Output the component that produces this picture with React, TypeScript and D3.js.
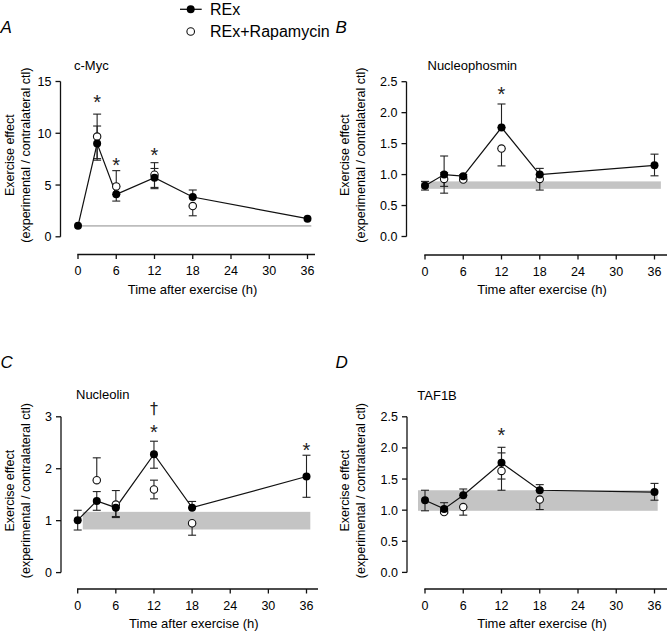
import React from 'react';
import * as d3 from 'd3';

// ---------- data ----------
const timesREx = [0, 3, 6, 12, 18, 36];
const timesRap = [3, 6, 12, 18];
const xTickValues = [0, 6, 12, 18, 24, 30, 36];
const seriesNames = ['REx', 'REx+Rapamycin'];
const xTitle = 'Time after exercise (h)';
const yTitle1 = 'Exercise effect';
const yTitle2 = '(experimental / contralateral ctl)';

// A: c-Myc
const mycREx = [1.06, 9.0, 4.1, 5.7, 3.84, 1.75];
const mycRExLo = [1.06, 7.4, 3.45, 4.65, 3.84, 1.75];
const mycRExHi = [1.06, 10.7, 4.1, 6.6, 4.52, 1.75];
const mycRap = [9.68, 4.87, 6.0, 2.97];
const mycRapLo = [7.55, 4.87, 4.77, 2.03];
const mycRapHi = [11.85, 6.39, 7.16, 2.97];
const mycBand = [1.06, 1.06];
const mycYTicks = [0, 5, 10, 15];
const mycMarkT = [3, 6, 12];
const mycMarkV = [13.5, 7.4, 8.43];
const mycMarkS = ['*', '*', '*'];

// B: Nucleophosmin
const npmREx = [0.82, 1.0, 0.975, 1.76, 1.0, 1.15];
const npmRExLo = [0.75, 0.7, 0.95, 1.76, 1.0, 0.98];
const npmRExHi = [0.89, 1.3, 1.0, 2.14, 1.1, 1.33];
const npmRap = [0.93, 0.92, 1.42, 0.93];
const npmRapLo = [0.81, 0.9, 1.14, 0.75];
const npmRapHi = [1.03, 0.92, 1.42, 0.93];
const npmBand = [0.77, 0.89];
const npmYTicks = [0, 0.5, 1.0, 1.5, 2.0, 2.5];
const npmMarkT = [12];
const npmMarkV = [2.39];
const npmMarkS = ['*'];

// C: Nucleolin
const nclREx = [1.01, 1.38, 1.25, 2.28, 1.25, 1.85];
const nclRExLo = [0.82, 1.2, 1.08, 2.01, 1.25, 1.45];
const nclRExHi = [1.2, 1.56, 1.25, 2.53, 1.37, 2.26];
const nclRap = [1.78, 1.31, 1.6, 0.95];
const nclRapLo = [1.78, 1.06, 1.42, 0.72];
const nclRapHi = [2.21, 1.58, 1.78, 0.95];
const nclBand = [0.83, 1.17];
const nclYTicks = [0, 1, 2, 3];
const nclMarkT = [12, 12, 36];
const nclMarkV = [3.15, 2.81, 2.45];
const nclMarkS = ['\u2020', '*', '*'];

// D: TAF1B
const tafREx = [1.16, 1.02, 1.24, 1.76, 1.32, 1.29];
const tafRExLo = [0.99, 1.02, 1.24, 1.5, 1.32, 1.16];
const tafRExHi = [1.32, 1.12, 1.34, 2.01, 1.41, 1.43];
const tafRap = [0.97, 1.05, 1.63, 1.17];
const tafRapLo = [0.95, 0.92, 1.32, 1.01];
const tafRapHi = [0.97, 1.05, 1.92, 1.17];
const tafBand = [0.99, 1.32];
const tafYTicks = [0, 0.5, 1.0, 1.5, 2.0, 2.5];
const tafMarkT = [12];
const tafMarkV = [2.29];
const tafMarkS = ['*'];

// ---------- layout ----------
const FONT = '"Liberation Sans", Arial, Helvetica, sans-serif';

type PanelCfg = {
  letter: string; title: string;
  left: number; axisX: number; x0: number; x36: number; xEnd: number;
  yTop: number; yBottom: number; xAxisY: number; yMax: number; fmt: string;
  bandT: [number, number]; titleX: number; titleY: number;
  rex: number[]; rexLo: number[]; rexHi: number[];
  rap: number[]; rapLo: number[]; rapHi: number[];
  band: number[]; yTicks: number[];
  markT: number[]; markV: number[]; markS: string[];
};

const panels: PanelCfg[] = [
  {
    letter: 'A', title: 'c-Myc', left: 0, axisX: 60.5, x0: 78, x36: 307.5, xEnd: 315,
    yTop: 81.5, yBottom: 236.8, xAxisY: 254.5, yMax: 15, fmt: 'd', bandT: [0, 36.6],
    titleX: 74, titleY: 70,
    rex: mycREx, rexLo: mycRExLo, rexHi: mycRExHi, rap: mycRap, rapLo: mycRapLo, rapHi: mycRapHi,
    band: mycBand, yTicks: mycYTicks, markT: mycMarkT, markV: mycMarkV, markS: mycMarkS,
  },
  {
    letter: 'B', title: 'Nucleophosmin', left: 335, axisX: 406.5, x0: 425, x36: 654.5, xEnd: 667,
    yTop: 81.7, yBottom: 236.5, xAxisY: 255, yMax: 2.5, fmt: '.1f', bandT: [-0.6, 37.0],
    titleX: 427.5, titleY: 69.5,
    rex: npmREx, rexLo: npmRExLo, rexHi: npmRExHi, rap: npmRap, rapLo: npmRapLo, rapHi: npmRapHi,
    band: npmBand, yTicks: npmYTicks, markT: npmMarkT, markV: npmMarkV, markS: npmMarkS,
  },
  {
    letter: 'C', title: 'Nucleolin', left: 0, axisX: 61, x0: 77.7, x36: 306.5, xEnd: 318,
    yTop: 416.8, yBottom: 572.6, xAxisY: 589, yMax: 3, fmt: 'd', bandT: [0.8, 36.6],
    titleX: 76, titleY: 399.3,
    rex: nclREx, rexLo: nclRExLo, rexHi: nclRExHi, rap: nclRap, rapLo: nclRapLo, rapHi: nclRapHi,
    band: nclBand, yTicks: nclYTicks, markT: nclMarkT, markV: nclMarkV, markS: nclMarkS,
  },
  {
    letter: 'D', title: 'TAF1B', left: 335, axisX: 407, x0: 425, x36: 654.5, xEnd: 667,
    yTop: 416.8, yBottom: 572.4, xAxisY: 589, yMax: 2.5, fmt: '.1f', bandT: [-1.1, 36.5],
    titleX: 417.3, titleY: 399.5,
    rex: tafREx, rexLo: tafRExLo, rexHi: tafRExHi, rap: tafRap, rapLo: tafRapLo, rapHi: tafRapHi,
    band: tafBand, yTicks: tafYTicks, markT: tafMarkT, markV: tafMarkV, markS: tafMarkS,
  },
];

const R = 4;
const CAP = 4;

function ErrBar({ x, y, lo, hi }: { x: number; y: (v: number) => number; lo: number; hi: number }) {
  const yl = y(lo), yh = y(hi);
  if (Math.abs(yl - yh) <= 0.5) return null;
  return (
    <g stroke="#222" strokeWidth={1.1}>
      <line x1={x} x2={x} y1={yl} y2={yh} />
      <line x1={x - CAP} x2={x + CAP} y1={yl} y2={yl} />
      <line x1={x - CAP} x2={x + CAP} y1={yh} y2={yh} />
    </g>
  );
}

function Panel({ p }: { p: PanelCfg }) {
  const x = d3.scaleLinear().domain([0, 36]).range([p.x0, p.x36]);
  const y = d3.scaleLinear().domain([0, p.yMax]).range([p.yBottom, p.yTop]);
  const fmt = d3.format(p.fmt);
  const line = d3.line<number>().x((_, i) => x(timesREx[i])).y((d) => y(d));
  const labelCY = (p.yTop + p.yBottom) / 2 - 4;
  const isLine = p.band[0] === p.band[1];
  const letterY = p.yTop - 49;
  return (
    <g>
      <text x={p.left + 0.5} y={letterY} fontSize={17} fontStyle="italic" fontFamily={FONT}>{p.letter}</text>
      <text x={p.titleX} y={p.titleY} fontSize={13} fontFamily={FONT}>{p.title}</text>
      {isLine ? (
        <line x1={x(p.bandT[0])} x2={x(p.bandT[1])} y1={y(p.band[0])} y2={y(p.band[0])} stroke="#bdbdbd" strokeWidth={1.6} />
      ) : (
        <rect x={x(p.bandT[0])} width={x(p.bandT[1]) - x(p.bandT[0])} y={y(p.band[1])} height={y(p.band[0]) - y(p.band[1])} fill="#c4c4c4" />
      )}
      <line x1={p.axisX} x2={p.axisX} y1={y(p.yMax)} y2={y(0)} stroke="#111" strokeWidth={1.3} />
      {p.yTicks.map((t) => (
        <g key={'yt' + t}>
          <line x1={p.axisX - 5} x2={p.axisX} y1={y(t)} y2={y(t)} stroke="#111" strokeWidth={1.3} />
          <text x={p.axisX - 9} y={y(t)} dy="0.36em" textAnchor="end" fontSize={12.5} fontFamily={FONT}>{fmt(t)}</text>
        </g>
      ))}
      <line x1={x(0) - 0.7} x2={p.xEnd} y1={p.xAxisY} y2={p.xAxisY} stroke="#111" strokeWidth={1.3} />
      {xTickValues.map((t) => (
        <g key={'xt' + t}>
          <line x1={x(t)} x2={x(t)} y1={p.xAxisY} y2={p.xAxisY + 4.5} stroke="#111" strokeWidth={1.3} />
          <text x={x(t)} y={p.xAxisY + 20.5} textAnchor="middle" fontSize={12.5} fontFamily={FONT}>{t}</text>
        </g>
      ))}
      <text x={(x(0) + p.xEnd) / 2 - 4} y={p.xAxisY + 39} textAnchor="middle" fontSize={13} fontFamily={FONT}>{xTitle}</text>
      <text transform={`translate(${p.left + 10},${labelCY}) rotate(-90)`} dy="0.35em" textAnchor="middle" fontSize={12.5} fontFamily={FONT}>{yTitle1}</text>
      <text transform={`translate(${p.left + 25.5},${labelCY}) rotate(-90)`} dy="0.35em" textAnchor="middle" fontSize={12.5} fontFamily={FONT}>{yTitle2}</text>
      {timesRap.map((t, i) => (
        <ErrBar key={'er' + t} x={x(t)} y={y} lo={p.rapLo[i]} hi={p.rapHi[i]} />
      ))}
      {timesREx.map((t, i) => (
        <ErrBar key={'ex' + t} x={x(t)} y={y} lo={p.rexLo[i]} hi={p.rexHi[i]} />
      ))}
      <path d={line(p.rex) || ''} fill="none" stroke="#111" strokeWidth={1.2} />
      {timesRap.map((t, i) => (
        <circle key={'rp' + t} cx={x(t)} cy={y(p.rap[i])} r={R - 0.3} fill="#fff" stroke="#111" strokeWidth={1.1} />
      ))}
      {timesREx.map((t, i) => (
        <circle key={'xp' + t} cx={x(t)} cy={y(p.rex[i])} r={R} fill="#000" />
      ))}
      {p.markT.map((t, i) => {
        const star = p.markS[i] === '*';
        const fs = star ? 20 : 16;
        return (
          <text key={'m' + i} x={x(t)} y={y(p.markV[i]) + (star ? 0.6 : 0.3) * fs} textAnchor="middle"
            fontSize={fs} fontFamily={star ? FONT : '"DejaVu Sans", sans-serif'} fill="#222">{p.markS[i]}</text>
        );
      })}
    </g>
  );
}

export default function App() {
  return (
    <svg width={670} height={632} style={{ position: 'absolute', left: 0, top: 0, background: '#fff' }}>
      <rect width={670} height={632} fill="#fff" />
      <line x1={180} x2={201.7} y1={9.3} y2={9.3} stroke="#111" strokeWidth={1.3} />
      <circle cx={190.7} cy={9.3} r={4} fill="#000" />
      <text x={210} y={14.5} fontSize={16} fontFamily={FONT}>{seriesNames[0]}</text>
      <circle cx={190.7} cy={31.5} r={3.8} fill="#fff" stroke="#111" strokeWidth={1.1} />
      <text x={210} y={37} fontSize={16} fontFamily={FONT}>{seriesNames[1]}</text>
      {panels.map((p) => (
        <Panel key={p.letter} p={p} />
      ))}
    </svg>
  );
}
